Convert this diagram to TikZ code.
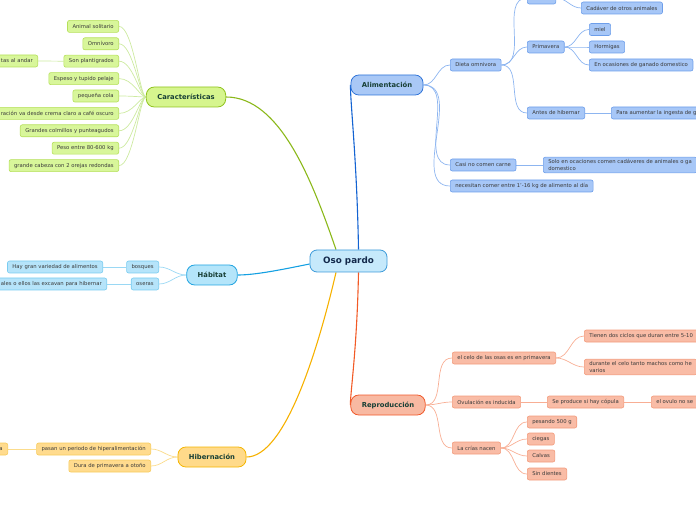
\documentclass[tikz,border=0pt]{standalone}
\usepackage{fontspec}
\setmainfont{DejaVu Sans}
\usetikzlibrary{backgrounds}

\definecolor{rootfill}{HTML}{C6E9FB}
\definecolor{rootline}{HTML}{3C9AD9}
\definecolor{roottext}{HTML}{13294B}
\definecolor{maintext}{HTML}{173F35}
\definecolor{leaftext}{HTML}{3A3A3A}
\definecolor{carfill}{HTML}{D6F58E}
\definecolor{carline}{HTML}{90C31E}
\definecolor{carbranch}{HTML}{8BB81A}
\definecolor{carleaf}{HTML}{D8F69A}
\definecolor{carleafline}{HTML}{B5E05A}
\definecolor{cartwig}{HTML}{CDEAA0}
\definecolor{alifill}{HTML}{A9C8F6}
\definecolor{aliline}{HTML}{2F73D8}
\definecolor{alibranch}{HTML}{1363D2}
\definecolor{alileaf}{HTML}{A7C7F7}
\definecolor{alileafline}{HTML}{6D9EEA}
\definecolor{alitwig}{HTML}{8DB5F0}
\definecolor{habfill}{HTML}{B4E5FA}
\definecolor{habline}{HTML}{23A5E1}
\definecolor{habbranch}{HTML}{14A0E2}
\definecolor{hableaf}{HTML}{B6E4FA}
\definecolor{hableafline}{HTML}{7ACCF0}
\definecolor{habtwig}{HTML}{9AD8F4}
\definecolor{repfill}{HTML}{F8B9A2}
\definecolor{repline}{HTML}{F0592B}
\definecolor{repbranch}{HTML}{F25A26}
\definecolor{repleaf}{HTML}{F9BCA6}
\definecolor{repleafline}{HTML}{F39B7C}
\definecolor{reptwig}{HTML}{F8AE94}
\definecolor{hibfill}{HTML}{FFDA8A}
\definecolor{hibline}{HTML}{F4B500}
\definecolor{hibbranch}{HTML}{F6B100}
\definecolor{hibleaf}{HTML}{FFDB8E}
\definecolor{hibleafline}{HTML}{F7CB5C}
\definecolor{hibtwig}{HTML}{FBDC8C}

\tikzset{%
	every leaf/.style={
		draw,
		rounded corners=2pt,
		line width=0.6pt,
		inner xsep=5pt,
		inner ysep=2.5pt,
		minimum height=12pt,
		font=\fontsize{5.3}{6.3}\selectfont,
		text=leaftext
	},
	leaf cut/.style={
		text width=125pt,
		align=right
	},
	root/.style={
		draw=rootline,
		fill=rootfill,
		rounded corners=7pt,
		line width=0.8pt,
		minimum width=77pt,
		minimum height=22pt,
		font=\fontsize{8.8}{10}\selectfont\bfseries,
		text=roottext
	},
	main/.style={
		rounded corners=8pt,
		line width=0.8pt,
		minimum height=20pt,
		inner xsep=11pt,
		font=\fontsize{6.8}{8}\selectfont\bfseries,
		text=maintext
	},
	branch/.style={line width=1.1pt},
	twig/.style={line width=0.7pt},
	car/.style={fill=carfill, draw=carline},
	ali/.style={fill=alifill, draw=aliline},
	hab/.style={fill=habfill, draw=habline},
	rep/.style={fill=repfill, draw=repline},
	hib/.style={fill=hibfill, draw=hibline},
	leaf car/.style={every leaf, fill=carleaf, draw=carleafline},
	leaf ali/.style={every leaf, fill=alileaf, draw=alileafline, anchor=west},
	leaf hab/.style={every leaf, fill=hableaf, draw=hableafline, anchor=east},
	leaf rep/.style={every leaf, fill=repleaf, draw=repleafline, anchor=west},
	leaf hib/.style={every leaf, fill=hibleaf, draw=hibleafline, anchor=east},
}

\begin{document}
\begin{tikzpicture}[x=1pt, y=1pt]

	\useasboundingbox (0,0) rectangle (696,520);
	\clip (0,0) rectangle (696,520);

	\node [root] (oso) at (348.5,259) {Oso pardo};

	\node [main, car] (car) at (186,423) {Características};
	\node [main, ali] (ali) at (387,435) {Alimentación};
	\node [main, hab] (hab) at (212,245) {Hábitat};
	\node [main, rep] (rep) at (388,115) {Reproducción};
	\node [main, hib] (hib) at (212,63) {Hibernación};

	\foreach \t/\m [count=\i] in {Animal solitario/full, Omnívoro/full, Son plantigrados/full, Espeso y tupido pelaje/full, pequeña cola/full, ración va desde crema claro a café oscuro/cut, Grandes colmillos y punteagudos/full, Peso entre 80-600 kg/full, grande cabeza con 2 orejas redondas/full}
	\node [leaf car, leaf \m/.try, anchor=east] (car-\i) at (119,511-17.4*\i) {\t};

	\node [leaf car, leaf cut, anchor=east] (andar) at (38,459) {tas al andar};

	\node [leaf ali] (dieta) at (450,455) {Dieta omnivora};
	\node [leaf ali] (verano) at (527,522) {Verano};
	\node [leaf ali] (cadaver) at (581,512) {Cadáver de otros animales};
	\node [leaf ali] (prima) at (527,473) {Primavera};
	\foreach \t/\y [count=\i] in {miel/490.5, Hormigas/473, En ocasiones de ganado domestico/455}
	\node [leaf ali] (prima-\i) at (589,\y) {\t};
	\node [leaf ali] (antes) at (527,407) {Antes de hibernar};
	\node [leaf ali] (ingesta) at (611,407) {Para aumentar la ingesta de g};
	\node [leaf ali] (casi) at (450,355) {Casi no comen carne};
	\node [leaf ali, align=left] (solo) at (543,355) {Solo en ocaciones comen cadáveres de animales o ga\\domestico};
	\node [leaf ali] (kilos) at (450,334) {necesitan comer entre 1'-16 kg de alimento al día};

	\node [leaf hab] (bosques) at (159,253) {bosques};
	\node [leaf hab] (variedad) at (103,253) {Hay gran variedad de alimentos};
	\node [leaf hab] (oseras) at (159,236) {oseras};
	\node [leaf hab, leaf cut] (excavan) at (107,236) {ales o ellos las excavan para hibernar};

	\node [leaf rep] (celo) at (452,162) {el celo de las osas es en primavera};
	\node [leaf rep] (ciclos) at (584,184) {Tienen dos ciclos que duran entre 5-10};
	\node [leaf rep, align=left] (machos) at (584,153) {durante el celo tanto machos como he\\varios};
	\node [leaf rep] (ovulacion) at (452,118) {Ovulación es inducida};
	\node [leaf rep] (copula) at (547,118) {Se produce si hay cópula};
	\node [leaf rep] (ovulo) at (651,118) {el ovulo no se};
	\node [leaf rep] (crias) at (452,72) {La crías nacen};
	\foreach \t/\y [count=\i] in {pesando 500 g/98, ciegas/81, Calvas/64, Sin dientes/46}
	\node [leaf rep] (crias-\i) at (527,\y) {\t};

	\node [leaf hib] (pasan) at (151,71) {pasan un periodo de hiperalimentación};
	\node [leaf hib, leaf cut] (hiper) at (8,71) {a};
	\node [leaf hib] (dura) at (151,54) {Dura de primavera a otoño};

	\begin{scope}[on background layer]
	\draw [branch, draw=carbranch] ([xshift=-12.5]oso.north) .. controls (312,340) and (280,423) .. (car.east);
	\draw [branch, draw=alibranch] ([xshift=10]oso.north) .. controls (357,360) and (350,420) .. (ali.west);
	\draw [branch, draw=habbranch] ([yshift=-3]oso.west) .. controls (280,250) and (255,245) .. (hab.east);
	\draw [branch, draw=repbranch] ([xshift=10]oso.south) .. controls (357,170) and (350,125) .. (rep.west);
	\draw [branch, draw=hibbranch] ([xshift=-12.5]oso.south) .. controls (318,170) and (285,63) .. (hib.east);

	\foreach \i in {1,...,9}
	\draw [twig, draw=cartwig] (car.west) .. controls +(-6,0) and +(14,0) .. (car-\i.east);
	\draw [twig, draw=cartwig] (car-3.west) -- (andar.east);

	\foreach \n in {dieta, casi, kilos}
	\draw [twig, draw=alitwig] (ali.east) to [out=0, in=180] (\n.west);
	\foreach \n in {verano, prima, antes}
	\draw [twig, draw=alitwig] (dieta.east) to [out=0, in=180] (\n.west);
	\foreach \i in {1,...,3}
	\draw [twig, draw=alitwig] (prima.east) to [out=0, in=180] (prima-\i.west);
	\draw [twig, draw=alitwig] (verano.east) to [out=0, in=180] (cadaver.west);
	\draw [twig, draw=alitwig] (antes.east) -- (ingesta.west);
	\draw [twig, draw=alitwig] (casi.east) -- (solo.west);

	\foreach \n in {bosques, oseras}
	\draw [twig, draw=habtwig] (hab.west) to [out=180, in=0] (\n.east);
	\draw [twig, draw=habtwig] (bosques.west) -- (variedad.east);
	\draw [twig, draw=habtwig] (oseras.west) -- (excavan.east);

	\foreach \n in {celo, ovulacion, crias}
	\draw [twig, draw=reptwig] (rep.east) to [out=0, in=180] (\n.west);
	\foreach \n in {ciclos, machos}
	\draw [twig, draw=reptwig] (celo.east) to [out=0, in=180] (\n.west);
	\draw [twig, draw=reptwig] (ovulacion.east) -- (copula.west);
	\draw [twig, draw=reptwig] (copula.east) -- (ovulo.west);
	\foreach \i in {1,...,4}
	\draw [twig, draw=reptwig] (crias.east) to [out=0, in=180] (crias-\i.west);

	\foreach \n in {pasan, dura}
	\draw [twig, draw=hibtwig] (hib.west) to [out=180, in=0] (\n.east);
	\draw [twig, draw=hibtwig] (pasan.west) -- (hiper.east);
	\end{scope}

\end{tikzpicture}
\end{document}
